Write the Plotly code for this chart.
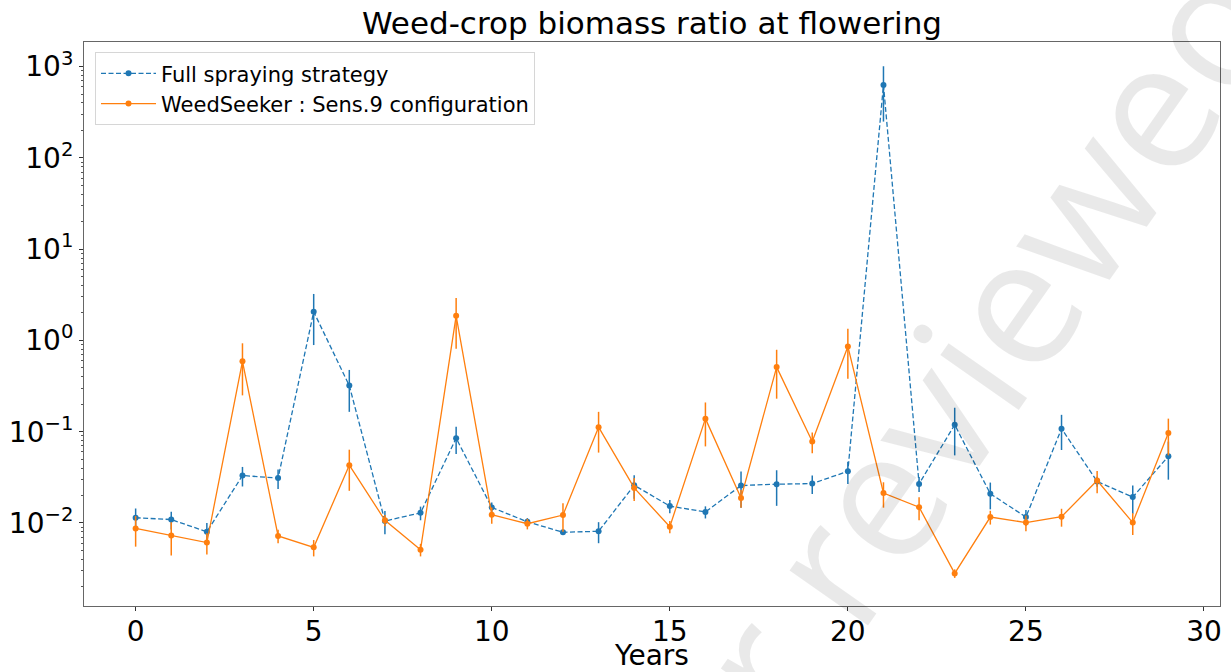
import plotly.graph_objects as go

years = list(range(30))

full_spray = [0.0114, 0.0109, 0.0080, 0.0331, 0.031, 2.06, 0.32, 0.0105, 0.0129, 0.085,
              0.0148, 0.0103, 0.0079, 0.0081, 0.0259, 0.0153, 0.0132, 0.0257, 0.0266, 0.0270,
              0.0368, 630.0, 0.0268, 0.119, 0.0209, 0.0116, 0.108, 0.0285, 0.0192, 0.0538]
full_spray_err = [0.003, 0.0024, 0.002, 0.008, 0.0074, 1.17, 0.155, 0.003, 0.0022, 0.028,
                  0.002, 0.001, 0.0005, 0.0021, 0.0075, 0.0025, 0.002, 0.011, 0.0112, 0.0062,
                  0.010, 380.0, 0.005, 0.064, 0.0068, 0.0023, 0.045, 0.0035, 0.0066, 0.024]

weedseeker = [0.0087, 0.0073, 0.0061, 0.59, 0.0072, 0.0054, 0.043, 0.0107, 0.0051, 1.86,
              0.0123, 0.0098, 0.0122, 0.112, 0.0242, 0.0091, 0.139, 0.0188, 0.51, 0.078,
              0.86, 0.0213, 0.0149, 0.00280, 0.0116, 0.0101, 0.0117, 0.0292, 0.0101, 0.097]
weedseeker_err = [0.0032, 0.0029, 0.0016, 0.34, 0.0012, 0.0011, 0.0205, 0.0015, 0.0008, 1.05,
                  0.0025, 0.0013, 0.0042, 0.053, 0.0068, 0.0014, 0.07, 0.0041, 0.28, 0.02,
                  0.48, 0.0066, 0.0042, 0.0003, 0.002, 0.002, 0.0026, 0.008, 0.0027, 0.042]

series_names = ["Full spraying strategy", "WeedSeeker : Sens.9 configuration"]
y_major = [1e-2, 1e-1, 1e0, 1e1, 1e2, 1e3]
y_major_text = ["10<sup>\u22122</sup>", "10<sup>\u22121</sup>", "10<sup>0</sup>",
                "10<sup>1</sup>", "10<sup>2</sup>", "10<sup>3</sup>"]
x_ticks = [0, 5, 10, 15, 20, 25, 30]

BLUE = "#1f77b4"
ORANGE = "#ff7f0e"
FONT = "DejaVu Sans"

minor_vals = [k * 10.0 ** d for d in range(-3, 4) for k in range(2, 10)]

fig = go.Figure()
fig.add_trace(go.Scatter(
    x=years, y=full_spray, name=series_names[0], mode="lines+markers",
    line=dict(color=BLUE, width=1.3, dash="5px,2.5px"),
    marker=dict(color=BLUE, size=6),
    error_y=dict(type="data", array=full_spray_err, visible=True, width=0,
                 thickness=1.5, color=BLUE),
))
fig.add_trace(go.Scatter(
    x=years, y=weedseeker, name=series_names[1], mode="lines+markers",
    line=dict(color=ORANGE, width=1.3),
    marker=dict(color=ORANGE, size=6),
    error_y=dict(type="data", array=weedseeker_err, visible=True, width=0,
                 thickness=1.5, color=ORANGE),
))

fig.update_layout(
    width=1231, height=672,
    margin=dict(l=84, r=11, t=42, b=66),
    paper_bgcolor="white", plot_bgcolor="white",
    font=dict(family=FONT, color="black"),
    title=dict(text="Weed-crop biomass ratio at flowering", x=0.5, xref="paper",
               xanchor="center", y=0.966, yanchor="middle", yref="container",
               font=dict(size=31, family=FONT, color="black")),
    showlegend=True,
    legend=dict(x=0.0097, y=0.982, xanchor="left", yanchor="top",
                bgcolor="rgba(255,255,255,0.8)", bordercolor="#d6d6d6", borderwidth=1,
                itemwidth=55, tracegroupgap=0,
                font=dict(size=21, family=FONT, color="black")),
    annotations=[dict(text="Not peer reviewed", xref="paper", yref="paper",
                      x=0.626, y=-0.005, xanchor="center", yanchor="middle",
                      textangle=-55, showarrow=False,
                      font=dict(size=179, family="Open Sans", color="rgba(0,0,0,0.085)"))],
)

fig.update_xaxes(
    range=[-1.45, 30.45], tickmode="array", tickvals=x_ticks,
    ticks="outside", ticklen=4, tickwidth=1, tickcolor="#333",
    ticklabelstandoff=-4,
    showgrid=False, zeroline=False, automargin=False,
    showline=True, mirror=True, linecolor="#666", linewidth=1,
    tickfont=dict(size=28, family=FONT, color="black"),
    title=dict(text="Years", font=dict(size=28, family=FONT, color="black"), standoff=2),
)
fig.update_yaxes(
    type="log", range=[-2.91, 3.27], tickmode="array",
    tickvals=y_major, ticktext=y_major_text,
    ticks="outside", ticklen=4, tickwidth=1, tickcolor="#333",
    minor=dict(tickmode="array", tickvals=minor_vals, ticks="outside", ticklen=2,
               tickwidth=0.8, tickcolor="#555", showgrid=False),
    showgrid=False, zeroline=False, automargin=False,
    showline=True, mirror=True, linecolor="#666", linewidth=1,
    tickfont=dict(size=28, family=FONT, color="black"),
)

fig.write_html("out.html", config={"displayModeBar": False},
               post_script="document.body.style.margin='0';document.body.style.padding='0';")
